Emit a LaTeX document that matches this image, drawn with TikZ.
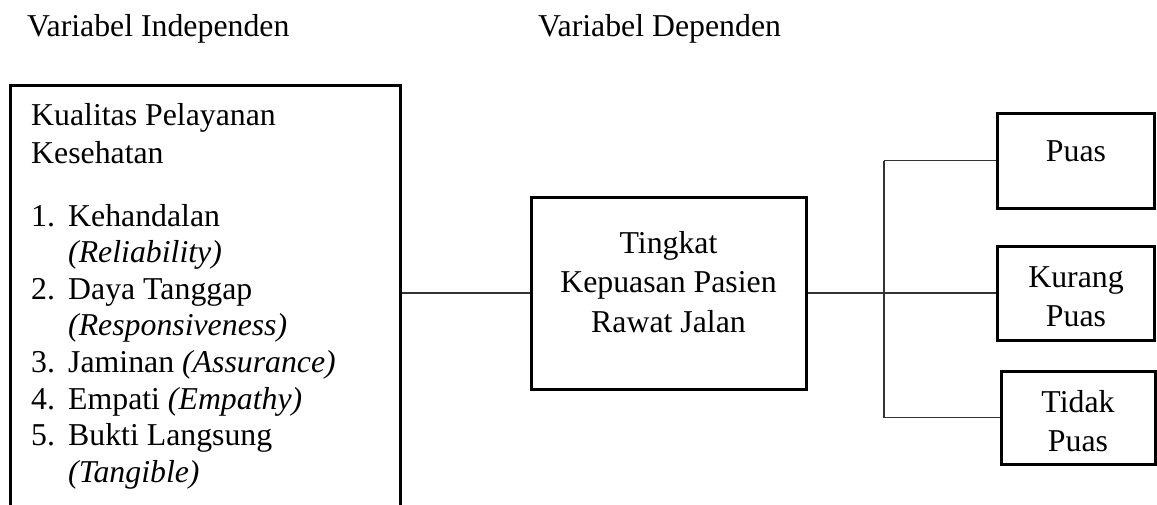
\documentclass[tikz,border=0pt]{standalone}
\usepackage{fontspec}
\setmainfont{Liberation Serif}
\begin{document}
\begin{tikzpicture}[x=1pt,y=-1pt,
  every node/.style={font=\fontsize{31.8}{36.6}\selectfont},
  box/.style={draw=black,line width=3pt,inner sep=0pt,rectangle},
  conn/.style={draw=black!80,line width=1.5pt},
  lbl/.style={inner sep=0pt,anchor=base west},
  clbl/.style={inner sep=0pt,anchor=base}]
\clip (0,0) rectangle (1157,504);
\fill[white] (0,0) rectangle (1157,504);
% headings
\node[lbl] (hind) at (27,36) {Variabel Independen};
\node[lbl] (hdep) at (538,36) {Variabel Dependen};
% boxes
\node[box,minimum width=390pt,minimum height=440pt] (lbox) at (205,305) {};
\node[box,minimum width=275pt,minimum height=192pt] (cbox) at (668.5,293) {};
\node[box,minimum width=157pt,minimum height=95pt] (puas) at (1076,160.5) {};
\node[box,minimum width=157pt,minimum height=94pt] (kurang) at (1076,293) {};
\node[box,minimum width=154pt,minimum height=93pt] (tidak) at (1078,417.5) {};
% left box text
\node[lbl] (t1) at (31,125) {Kualitas Pelayanan};
\node[lbl] (t2) at (31,163) {Kesehatan};
\node[lbl] (n1) at (31,226) {1.};
\node[lbl] (i1) at (68,226) {Kehandalan};
\node[lbl] (i1b) at (68,262.6) {\textit{(Reliability)}};
\node[lbl] (n2) at (31,299.2) {2.};
\node[lbl] (i2) at (68,299.2) {Daya Tanggap};
\node[lbl] (i2b) at (68,335.8) {\textit{(Responsiveness)}};
\node[lbl] (n3) at (31,372.4) {3.};
\node[lbl] (i3) at (68,372.4) {Jaminan \textit{(Assurance)}};
\node[lbl] (n4) at (31,409) {4.};
\node[lbl] (i4) at (68,409) {Empati \textit{(Empathy)}};
\node[lbl] (n5) at (31,445.6) {5.};
\node[lbl] (i5) at (68,445.6) {Bukti Langsung};
\node[lbl] (i5b) at (68,482.2) {\textit{(Tangible)}};
% center text
\node[clbl] (c1) at (668.5,253) {Tingkat};
\node[clbl] (c2) at (668.5,292) {Kepuasan Pasien};
\node[clbl] (c3) at (668.5,332) {Rawat Jalan};
% right texts
\node[clbl] (p1) at (1076,161) {Puas};
\node[clbl] (k1) at (1076,287) {Kurang};
\node[clbl] (k2) at (1076,326) {Puas};
\node[clbl] (d1) at (1078,412) {Tidak};
\node[clbl] (d2) at (1078,451) {Puas};
% connectors
\coordinate (jt) at (884,160.5);
\coordinate (jb) at (884,417.5);
\draw[conn] (lbox.east |- cbox.west) -- (cbox.west);
\draw[conn] (cbox.east) -- (kurang.west);
\draw[conn] (jt) -- (puas.west);
\draw[conn] (jt) -- (jb) -- (tidak.west);
\end{tikzpicture}
\end{document}
